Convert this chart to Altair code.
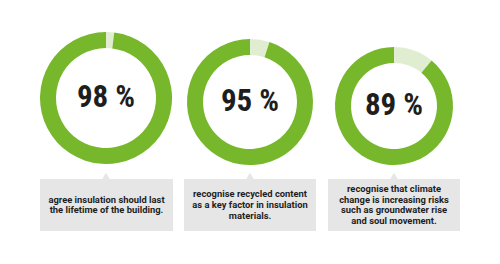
import altair as alt
import pandas as pd

# ---- data ----
percents = [98, 95, 89]
pct_labels = ["98 %", "95 %", "89 %"]
captions = [
    ["agree insulation should last", "the lifetime of the building."],
    ["recognise recycled content", "as a key factor in insulation", "materials."],
    ["recognise that climate", "change is increasing risks", "such as groundwater rise", "and soul movement."],
]

# ---- layout / style ----
centers = [(106, 98), (250, 102), (394, 106)]
outer_r = [66, 63, 59]
inner_r = [50, 47, 43]
box_x = [(40, 173), (184, 316), (328, 460)]
box_y = (179, 231)
LINE_H = 10.6
GREEN = "#77b72b"
LIGHT = "#e1edd1"
BOX = "#e6e6e6"
TEXT = "#1e1e1e"

layers = []
for i, p in enumerate(percents):
    cx, cy = centers[i]
    df = pd.DataFrame({"part": ["rest", "value"], "v": [100 - p, p], "o": [0, 1]})
    arc = alt.Chart(df).mark_arc(stroke=None).encode(
        theta=alt.Theta("v:Q", stack=True, scale=alt.Scale(domain=[0, 100])),
        order=alt.Order("o:Q"),
        color=alt.Color("part:N", scale=alt.Scale(domain=["rest", "value"], range=[LIGHT, GREEN]), legend=None),
        x=alt.value(cx),
        y=alt.value(cy),
        radius=alt.value(outer_r[i]),
        radius2=alt.value(inner_r[i]),
    )
    layers.append(arc)

    tdf = pd.DataFrame({"label": [pct_labels[i]]})
    pct = alt.Chart(tdf).mark_text(
        font="Roboto Condensed, Open Sans Condensed, sans-serif",
        fontWeight="bold", fontSize=31, color=TEXT, align="center", baseline="middle",
    ).encode(text="label:N", x=alt.value(cx), y=alt.value(cy))
    layers.append(pct)

    bdf = pd.DataFrame({"k": [0]})
    box = alt.Chart(bdf).mark_rect(color=BOX).encode(
        x=alt.value(box_x[i][0]), x2=alt.value(box_x[i][1]),
        y=alt.value(box_y[0]), y2=alt.value(box_y[1]),
    )
    layers.append(box)
    tri = alt.Chart(bdf).mark_point(shape="triangle-up", filled=True, color=BOX, size=60, opacity=1).encode(
        x=alt.value(cx), y=alt.value(box_y[0] - 3),
    )
    layers.append(tri)

    n = len(captions[i])
    mid = (box_y[0] + box_y[1]) / 2
    cdf = pd.DataFrame({"cap": ["\n".join(captions[i])]})
    cap = alt.Chart(cdf).mark_text(
        font="Roboto", fontWeight="bold", fontSize=9.4, color=TEXT, align="center",
        baseline="middle", lineBreak="\n", lineHeight=LINE_H,
    ).encode(text="cap:N", x=alt.value((box_x[i][0] + box_x[i][1]) / 2),
             y=alt.value(mid - (n - 1) * LINE_H / 2))
    layers.append(cap)

chart = alt.layer(*layers).properties(
    width=500, height=264, autosize=alt.AutoSizeParams(type="none"), padding=0,
    background="white",
).configure_view(stroke=None)

chart.save("out.html", embed_options={"renderer": "svg", "actions": False})
